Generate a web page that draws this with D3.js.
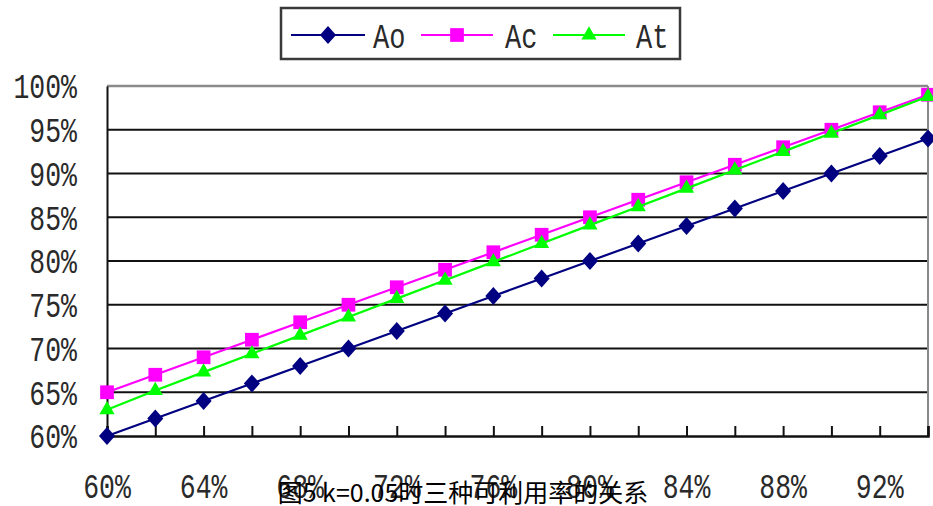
<!DOCTYPE html>
<html>
<head>
<meta charset="utf-8">
<script src="https://cdn.jsdelivr.net/npm/d3@7"></script>
<style>
  html, body { margin: 0; padding: 0; background: #fff; }
  svg { display: block; }
</style>
</head>
<body>
<svg id="chart" width="933" height="506"></svg>
<script>
// Availability levels on the x axis (fraction)
const categories = [0.60, 0.62, 0.64, 0.66, 0.68, 0.70, 0.72, 0.74, 0.76, 0.78,
                    0.80, 0.82, 0.84, 0.86, 0.88, 0.90, 0.92, 0.94];
// Three availability measures, percent
const aoValues = [60, 62, 64, 66, 68, 70, 72, 74, 76, 78, 80, 82, 84, 86, 88, 90, 92, 94];
const acValues = [65, 67, 69, 71, 73, 75, 77, 79, 81, 83, 85, 87, 89, 91, 93, 95, 97, 99];
const atValues = [63, 65.2, 67.3, 69.4, 71.5, 73.6, 75.7, 77.8, 79.9, 82.0, 84.1, 86.2, 88.3, 90.4, 92.5, 94.6, 96.7, 98.8];
const seriesNames = ["Ao", "Ac", "At"];
const yTicks = [60, 65, 70, 75, 80, 85, 90, 95, 100];
const xLabelCats = [0.60, 0.64, 0.68, 0.72, 0.76, 0.80, 0.84, 0.88, 0.92];
const caption = "图5 k=0.05时三种可利用率的关系";

const series = [
  { name: seriesNames[0], values: aoValues, color: "#000080", marker: "diamond" },
  { name: seriesNames[1], values: acValues, color: "#ff00ff", marker: "square" },
  { name: seriesNames[2], values: atValues, color: "#00ff00", marker: "triangle" }
];

const svg = d3.select("#chart");
const plotL = 107, plotR = 928, plotT = 86, plotB = 436;
const monoFont = "'Liberation Mono', 'DejaVu Sans Mono', monospace";

const x = d3.scalePoint().domain(categories).range([plotL, plotR]).padding(0);
const y = d3.scaleLinear().domain([60, 100]).range([plotB, plotT]);
const pct = d => Math.round(d * 100) + "%";

// Horizontal gridlines
svg.append("g")
  .selectAll("line")
  .data(yTicks.filter(t => t > 60 && t < 100))
  .join("line")
  .attr("x1", plotL).attr("x2", plotR)
  .attr("y1", d => y(d)).attr("y2", d => y(d))
  .attr("stroke", "#111").attr("stroke-width", 2);

// Plot frame: top and right in grey
svg.append("line").attr("x1", plotL).attr("x2", plotR).attr("y1", y(100)).attr("y2", y(100))
  .attr("stroke", "#8a8a8a").attr("stroke-width", 2.5);
svg.append("line").attr("x1", plotR).attr("x2", plotR).attr("y1", y(100)).attr("y2", y(60))
  .attr("stroke", "#8a8a8a").attr("stroke-width", 2);

// Bottom axis with inward ticks
const xAxis = svg.append("g")
  .attr("transform", `translate(0,${plotB})`)
  .call(d3.axisBottom(x).tickSize(-10).tickFormat(""));
xAxis.select(".domain").attr("stroke", "#111").attr("stroke-width", 2.5);
xAxis.selectAll(".tick line").attr("stroke", "#111").attr("stroke-width", 2);

// Left axis line
const yAxis = svg.append("g")
  .attr("transform", `translate(${plotL},0)`)
  .call(d3.axisLeft(y).tickValues(yTicks).tickSize(0).tickFormat(""));
yAxis.select(".domain").attr("stroke", "#111").attr("stroke-width", 2);

// Y tick labels (tall, narrow monospace look)
svg.append("g")
  .selectAll("text")
  .data(yTicks)
  .join("text")
  .attr("transform", d => `translate(77,${y(d)}) scale(1,1.3)`)
  .attr("text-anchor", "end")
  .attr("dy", "0.36em")
  .attr("font-family", monoFont)
  .attr("font-size", 26.5)
  .attr("fill", "#2a2a2a")
  .text(d => d + "%");

// X tick labels, every other category
svg.append("g")
  .selectAll("text")
  .data(xLabelCats)
  .join("text")
  .attr("transform", d => `translate(${x(d)},486) scale(1,1.3)`)
  .attr("text-anchor", "middle")
  .attr("dy", "0.36em")
  .attr("font-family", monoFont)
  .attr("font-size", 26.5)
  .attr("fill", "#2a2a2a")
  .text(pct);

// Marker shapes
const sym = {
  diamond: d3.symbol().type(d3.symbolDiamond2).size(165),
  square: d3.symbol().type(d3.symbolSquare2).size(240),
  triangle: d3.symbol().type(d3.symbolTriangle2).size(165)
};

const line = d3.line().x((d, i) => x(categories[i])).y(d => y(d));

// Draw series in order: Ao, Ac, At (At on top)
series.forEach(s => {
  const g = svg.append("g");
  g.append("path")
    .attr("d", line(s.values))
    .attr("fill", "none")
    .attr("stroke", s.color)
    .attr("stroke-width", 2.2);
  g.selectAll("path.m")
    .data(s.values)
    .join("path")
    .attr("class", "m")
    .attr("transform", (d, i) => {
      const base = `translate(${x(categories[i])},${y(d)})`;
      return s.marker === "diamond" ? base + " scale(1,1.12)" : base;
    })
    .attr("d", sym[s.marker]())
    .attr("fill", s.color)
    .attr("stroke", "none");
});

// Legend
const legend = svg.append("g");
legend.append("rect")
  .attr("x", 281).attr("y", 8).attr("width", 399).attr("height", 51)
  .attr("fill", "#fff").attr("stroke", "#3a3a3a").attr("stroke-width", 2.5);
const legendItems = [
  { s: series[0], x0: 291, x1: 365, tx: 373 },
  { s: series[1], x0: 421, x1: 493, tx: 505 },
  { s: series[2], x0: 553, x1: 625, tx: 636 }
];
legendItems.forEach(it => {
  const cy = 35;
  legend.append("line")
    .attr("x1", it.x0).attr("x2", it.x1).attr("y1", cy).attr("y2", cy)
    .attr("stroke", it.s.color).attr("stroke-width", 2.2);
  legend.append("path")
    .attr("transform", `translate(${(it.x0 + it.x1) / 2},${cy})` + (it.s.marker === "diamond" ? " scale(1,1.12)" : ""))
    .attr("d", sym[it.s.marker]())
    .attr("fill", it.s.color);
  legend.append("text")
    .attr("transform", `translate(${it.tx},${cy}) scale(1,1.3)`)
    .attr("dy", "0.36em")
    .attr("font-family", monoFont)
    .attr("font-size", 27)
    .attr("fill", "#2a2a2a")
    .text(it.s.name);
});

// Caption
svg.append("text")
  .attr("x", 463).attr("y", 502)
  .attr("text-anchor", "middle")
  .attr("font-family", "'Noto Sans CJK SC', 'Noto Sans', sans-serif")
  .attr("font-size", 25)
  .attr("font-weight", 400)
  .attr("fill", "#000")
  .text(caption);
</script>
</body>
</html>
